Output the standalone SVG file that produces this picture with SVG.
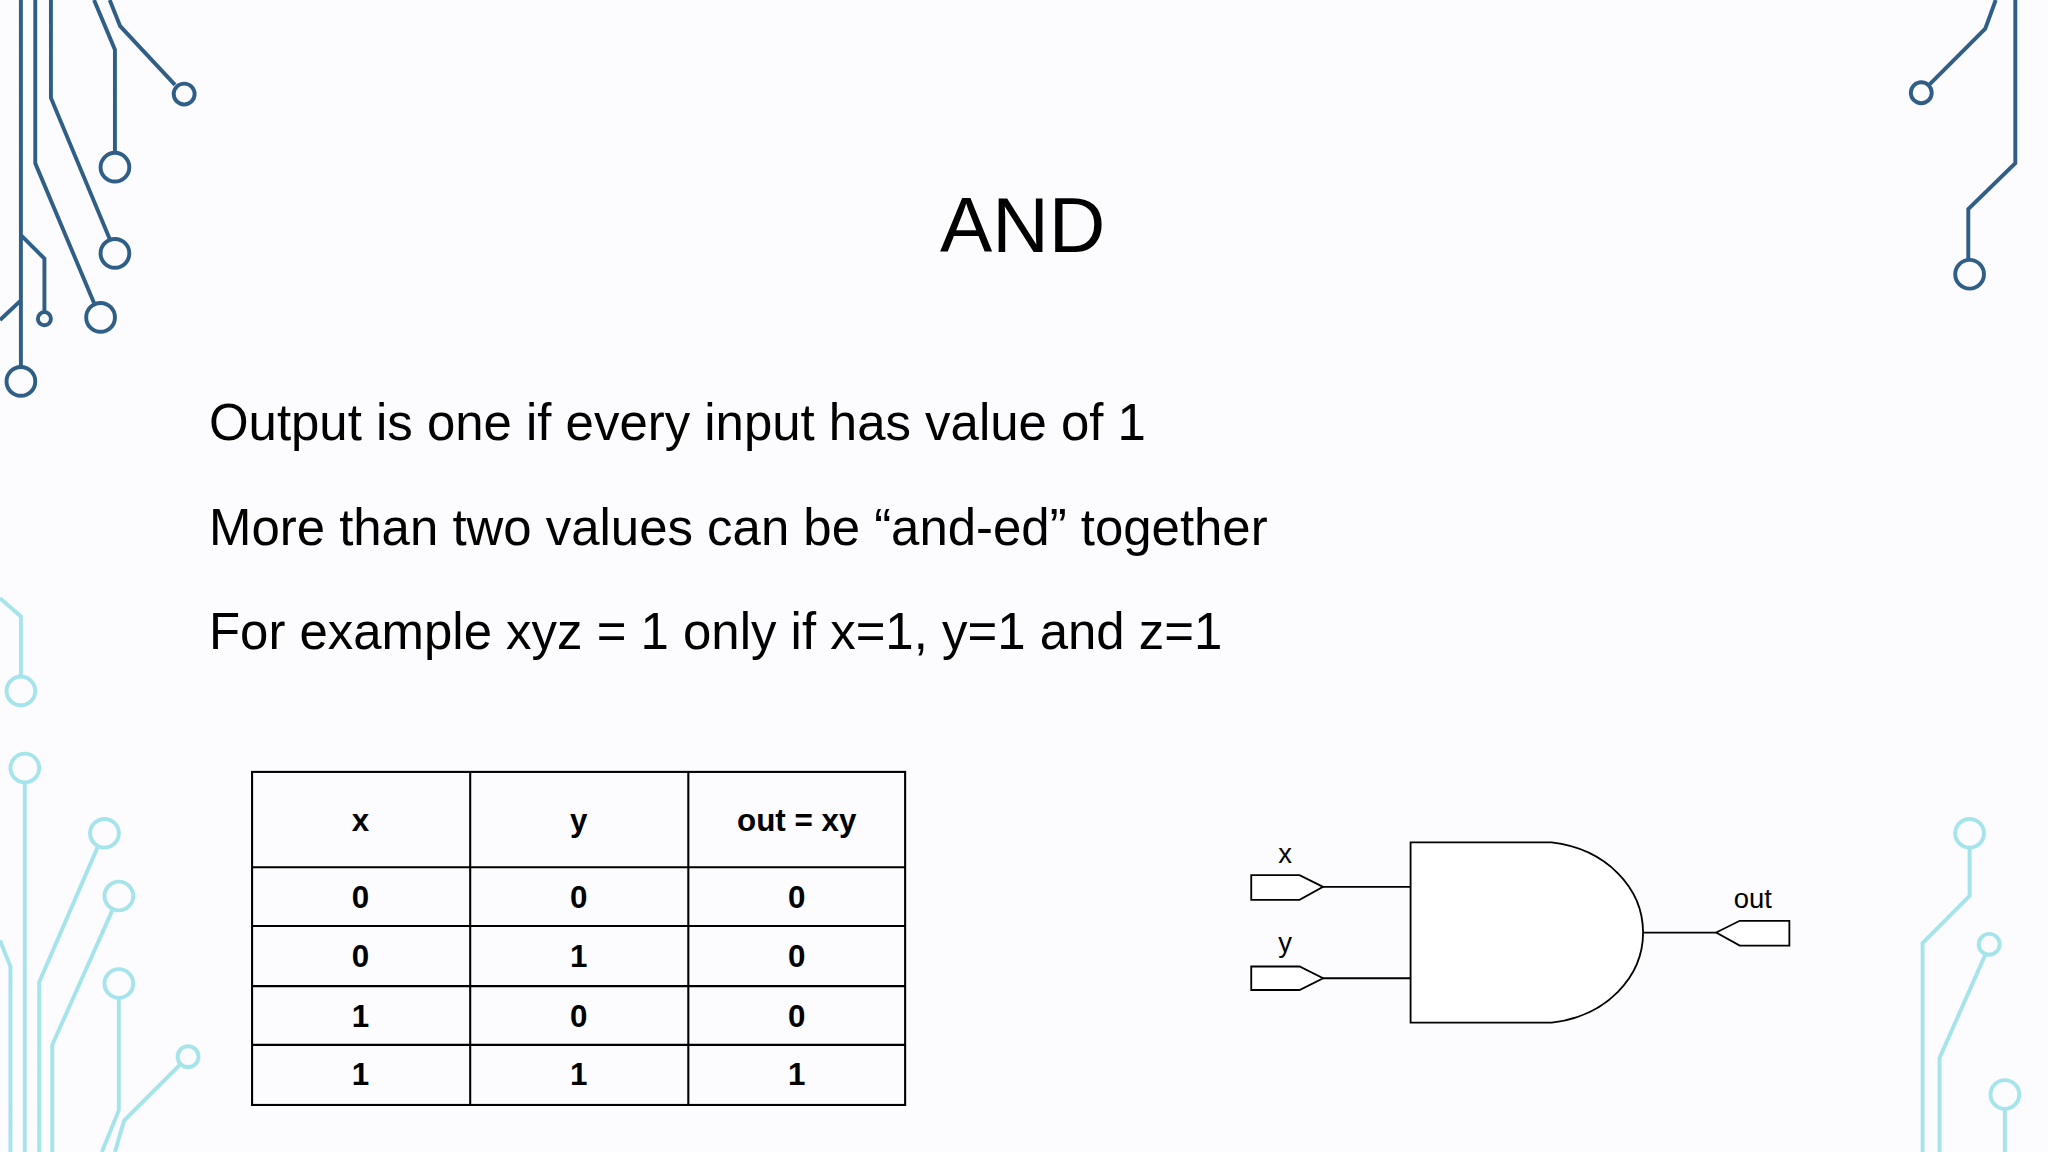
<svg xmlns="http://www.w3.org/2000/svg" width="2048" height="1152" viewBox="0 0 2048 1152">
<style>
.d{fill:none;stroke:#2f5f86;stroke-width:3}
.l{fill:none;stroke:#a6e4ec;stroke-width:3}
.t{font-family:"Liberation Sans",Arial,sans-serif;fill:#000}
.tb{fill:none;stroke:#000;stroke-width:1.6}
.c{font-family:"Liberation Sans",Arial,sans-serif;font-weight:bold;font-size:24px;text-anchor:middle}
.g{fill:#fff;stroke:#000;stroke-width:1.4}
</style>
<rect width="2048" height="1152" fill="#fcfbfd"/>
<g transform="scale(1.3061)">
<g id="deco">
<path class="d" d="M16,0V281M27,0V125L72,232M39,0V75L84,183M72,0L88,38V116M84,0L92,20L134,65M16,180L34,198V239M0,245L16,230"/>
<circle class="d" cx="16" cy="292" r="11"/><circle class="d" cx="77" cy="243" r="11"/><circle class="d" cx="88" cy="194" r="11"/><circle class="d" cx="88" cy="128" r="11"/><circle class="d" cx="141" cy="72" r="8"/><circle class="d" cx="34" cy="244" r="5"/>
<path class="d" d="M1528,0L1520,22L1477,65M1543,0V125L1507,160V199"/>
<circle class="d" cx="1471" cy="71" r="8"/><circle class="d" cx="1508" cy="210" r="11"/>
<path class="l" d="M0,458L16,472V518M19,599V882M75,648L30,752V882M86,697L40,800V882M91,764V850L78,882M138,815L95,858L88,882M0,720L8,740V882"/>
<circle class="l" cx="16" cy="529" r="11"/><circle class="l" cx="19" cy="588" r="11"/><circle class="l" cx="80" cy="638" r="11"/><circle class="l" cx="91" cy="686" r="11"/><circle class="l" cx="91" cy="753" r="11"/><circle class="l" cx="144" cy="809" r="8"/>
<path class="l" d="M1508,649V686L1472,722V882M1520,731L1485,810V882M1535,849V882"/>
<circle class="l" cx="1508" cy="638" r="11"/><circle class="l" cx="1523" cy="723" r="8"/><circle class="l" cx="1535" cy="838" r="11"/>
</g>
<g id="title"><text class="t" x="783" y="193" font-size="60" text-anchor="middle">AND</text></g>
<g id="bullets">
<text class="t" x="160" y="337" font-size="39">Output is one if every input has value of 1</text>
<text class="t" x="160" y="417" font-size="39">More than two values can be “and-ed” together</text>
<text class="t" x="160" y="497" font-size="39">For example xyz = 1 only if x=1, y=1 and z=1</text>
</g>
<g id="table">
<rect class="tb" x="193" y="591" width="500" height="255"/>
<path class="tb" d="M360,591V846M527,591V846M193,664H693M193,709H693M193,755H693M193,800H693"/>
<text class="c" x="276" y="636">x</text><text class="c" x="443" y="636">y</text><text class="c" x="610" y="636">out = xy</text>
<text class="c" x="276" y="695">0</text><text class="c" x="443" y="695">0</text><text class="c" x="610" y="695">0</text>
<text class="c" x="276" y="740">0</text><text class="c" x="443" y="740">1</text><text class="c" x="610" y="740">0</text>
<text class="c" x="276" y="786">1</text><text class="c" x="443" y="786">0</text><text class="c" x="610" y="786">0</text>
<text class="c" x="276" y="831">1</text><text class="c" x="443" y="831">1</text><text class="c" x="610" y="831">1</text>
</g>
<g id="gate">
<path class="g" d="M1080,645H1188C1230,650 1258,680 1258,714C1258,748 1230,778 1188,783H1080Z"/>
</g>
<g id="pins">
<path class="g" d="M958,670H995L1013,679L995,689H958Z"/>
<path class="g" d="M958,740H995L1013,749L995,758H958Z"/>
<path class="g" d="M1314,714L1332,705H1370V724H1332Z"/>
<text class="t" x="984" y="661" font-size="21" text-anchor="middle">x</text>
<text class="t" x="984" y="729" font-size="21" text-anchor="middle">y</text>
<text class="t" x="1342" y="695" font-size="21" text-anchor="middle">out</text>
</g>
<g id="connectors" fill="none" stroke="#000" stroke-width="1.4">
<path d="M1013,679H1080M1013,749H1080M1258,714H1314"/>
</g>
</g>
</svg>
